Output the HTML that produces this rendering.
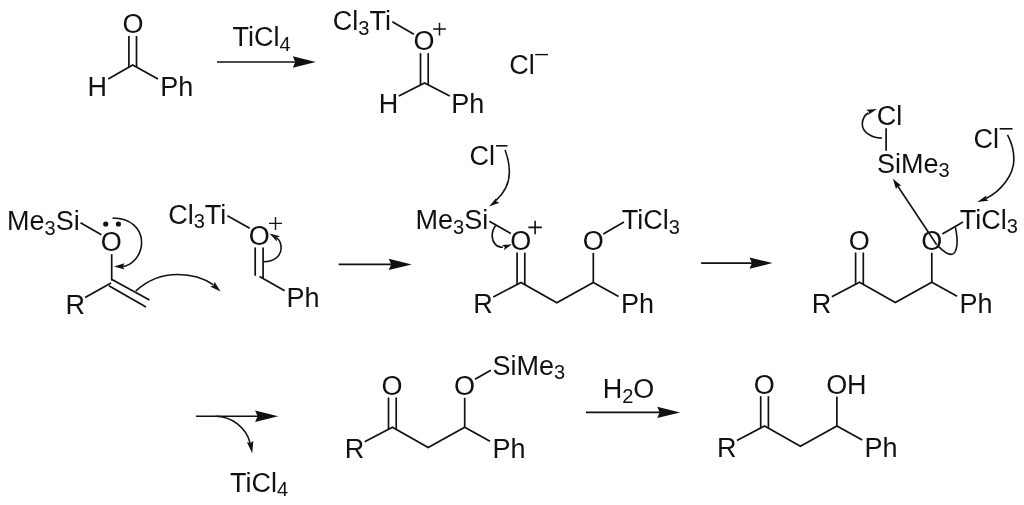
<!DOCTYPE html>
<html><head><meta charset="utf-8"><style>
html,body{margin:0;padding:0;background:#fff;}
svg{display:block;will-change:transform;}
text{font-family:"Liberation Sans",sans-serif;fill:#111;stroke:none;}
</style></head><body>
<svg width="1024" height="505" viewBox="0 0 1024 505" stroke="#111" fill="#111" stroke-linecap="butt">
<g>
<text transform="translate(122.41,0) scale(1.0,1)" x="0"><tspan font-size="27.0" y="32.90">O</tspan></text>
<line x1="128.90" y1="36.00" x2="128.90" y2="67.20" stroke-width="1.7"/>
<line x1="136.50" y1="36.00" x2="136.50" y2="67.20" stroke-width="1.7"/>
<polyline points="108.2,79 132.7,65.0 158,79" fill="none" stroke-width="1.7"/>
<text transform="translate(87.49,0) scale(1.0,1)" x="0"><tspan font-size="27.0" y="96.10">H</tspan></text>
<text transform="translate(160.29,0) scale(1.0,1)" x="0"><tspan font-size="27.0" y="96.10">Ph</tspan></text>
<text transform="translate(232.59,0) scale(1.0,1)" x="0"><tspan font-size="27.0" y="46.00">TiCl</tspan><tspan font-size="20.0" y="50.50">4</tspan></text>
<line x1="217.00" y1="62.00" x2="295.80" y2="62.00" stroke-width="1.6"/>
<path d="M315.80,62.00L292.80,56.30L295.30,62.00L292.80,67.70Z" stroke="none"/>
<text transform="translate(332.83,0) scale(1.0,1)" x="0"><tspan font-size="27.0" y="30.00">Cl</tspan><tspan font-size="20.0" y="34.50">3</tspan><tspan font-size="27.0" y="30.00">Ti</tspan></text>
<line x1="392.30" y1="21.80" x2="413.90" y2="34.30" stroke-width="1.7"/>
<text transform="translate(413.51,0) scale(1.0,1)" x="0"><tspan font-size="27.0" y="50.00">O</tspan></text>
<path d="M433.10,29.10H445.90M439.50,22.70V35.50" stroke-width="1.5" fill="none"/>
<line x1="420.50" y1="53.20" x2="420.50" y2="85.00" stroke-width="1.7"/>
<line x1="428.20" y1="53.20" x2="428.20" y2="85.00" stroke-width="1.7"/>
<polyline points="398.8,96 424.5,83.0 449.8,96" fill="none" stroke-width="1.7"/>
<text transform="translate(378.79,0) scale(1.0,1)" x="0"><tspan font-size="27.0" y="113.30">H</tspan></text>
<text transform="translate(451.29,0) scale(1.0,1)" x="0"><tspan font-size="27.0" y="113.30">Ph</tspan></text>
<text transform="translate(509.13,0) scale(1.0,1)" x="0"><tspan font-size="27.0" y="73.60">Cl</tspan></text>
<path d="M535.20,54.60H548.00" stroke-width="1.4"/>
<text transform="translate(7.09,0) scale(1.0,1)" x="0"><tspan font-size="27.0" y="230.40">Me</tspan><tspan font-size="20.0" y="234.90">3</tspan><tspan font-size="27.0" y="230.40">Si</tspan></text>
<line x1="80.50" y1="222.80" x2="101.40" y2="234.80" stroke-width="1.7"/>
<text transform="translate(100.86,0) scale(1.0,1)" x="0"><tspan font-size="27.0" y="250.50">O</tspan></text>
<circle cx="105.7" cy="224.0" r="2.6" stroke="none"/><circle cx="118.4" cy="224.0" r="2.6" stroke="none"/>
<line x1="111.70" y1="254.20" x2="111.70" y2="280.50" stroke-width="1.7"/>
<line x1="111.00" y1="283.00" x2="85.10" y2="297.60" stroke-width="1.7"/>
<line x1="111.90" y1="279.50" x2="149.50" y2="300.10" stroke-width="1.7"/>
<line x1="108.90" y1="285.80" x2="146.00" y2="307.10" stroke-width="1.7"/>
<text transform="translate(65.49,0) scale(1.0,1)" x="0"><tspan font-size="27.0" y="314.20">R</tspan></text>
<path d="M112.5,218.0 C131,218.0 141.6,229 141.6,242.3 C141.6,256 131,266.3 122,266.5" fill="none" stroke-width="1.6"/>
<path d="M113.90,266.60L124.54,263.29L122.60,266.43L124.66,269.49Z" stroke="none"/>
<path d="M135.7,291.1 C152,276 170,274.5 178,274.5 C192,274.5 205,279 213.5,284.8" fill="none" stroke-width="1.6"/>
<path d="M220.60,291.60L210.08,286.53L213.78,285.43L214.51,281.64Z" stroke="none"/>
<text transform="translate(168.13,0) scale(1.0,1)" x="0"><tspan font-size="27.0" y="223.70">Cl</tspan><tspan font-size="20.0" y="228.20">3</tspan><tspan font-size="27.0" y="223.70">Ti</tspan></text>
<line x1="227.40" y1="215.80" x2="249.70" y2="228.20" stroke-width="1.7"/>
<text transform="translate(248.81,0) scale(1.0,1)" x="0"><tspan font-size="27.0" y="244.80">O</tspan></text>
<path d="M269.00,223.40H282.00M275.50,216.90V229.90" stroke-width="1.4" fill="none"/>
<line x1="255.20" y1="247.40" x2="255.20" y2="275.80" stroke-width="1.7"/>
<line x1="263.10" y1="247.40" x2="263.10" y2="278.00" stroke-width="1.7"/>
<line x1="259.50" y1="276.50" x2="284.70" y2="290.80" stroke-width="1.7"/>
<text transform="translate(286.49,0) scale(1.0,1)" x="0"><tspan font-size="27.0" y="307.10">Ph</tspan></text>
<path d="M263.8,261.8 C274,261.8 281.1,256 281.1,248 C281.1,243 279.5,240 277,238" fill="none" stroke-width="1.6"/>
<path d="M269.50,233.60L279.91,236.21L276.67,237.79L276.88,241.39Z" stroke="none"/>
<line x1="338.70" y1="264.40" x2="391.70" y2="264.40" stroke-width="1.6"/>
<path d="M411.70,264.40L388.70,258.70L391.20,264.40L388.70,270.10Z" stroke="none"/>
<line x1="517.10" y1="252.60" x2="517.10" y2="284.60" stroke-width="1.7"/>
<line x1="524.80" y1="252.60" x2="524.80" y2="284.60" stroke-width="1.7"/>
<text transform="translate(510.21,0) scale(1.0,1)" x="0"><tspan font-size="27.0" y="249.90">O</tspan></text>
<text transform="translate(473.29,0) scale(1.0,1)" x="0"><tspan font-size="27.0" y="313.00">R</tspan></text>
<polyline points="493.30,296.90 521.00,282.40 556.80,302.70 593.30,282.40 618.60,296.40" fill="none" stroke-width="1.7" stroke-linejoin="miter"/>
<line x1="593.30" y1="282.40" x2="593.30" y2="252.90" stroke-width="1.7"/>
<text transform="translate(582.71,0) scale(1.0,1)" x="0"><tspan font-size="27.0" y="249.90">O</tspan></text>
<text transform="translate(620.99,0) scale(1.0,1)" x="0"><tspan font-size="27.0" y="313.10">Ph</tspan></text>
<text transform="translate(415.49,0) scale(1.0,1)" x="0"><tspan font-size="27.0" y="229.20">Me</tspan><tspan font-size="20.0" y="233.70">3</tspan><tspan font-size="27.0" y="229.20">Si</tspan></text>
<line x1="489.30" y1="221.30" x2="510.80" y2="233.50" stroke-width="1.7"/>
<path d="M528.35,227.40H541.85M535.10,220.65V234.15" stroke-width="1.6" fill="none"/>
<line x1="603.30" y1="233.90" x2="624.00" y2="222.00" stroke-width="1.7"/>
<text transform="translate(621.69,0) scale(1.0,1)" x="0"><tspan font-size="27.0" y="229.10">TiCl</tspan><tspan font-size="20.0" y="233.60">3</tspan></text>
<text transform="translate(469.43,0) scale(1.0,1)" x="0"><tspan font-size="27.0" y="165.10">Cl</tspan></text>
<path d="M496.10,145.80H507.50" stroke-width="1.6"/>
<path d="M505.1,150 C508,158 509.4,166 509.4,172 C509.4,184 503,194 496,200.5" fill="none" stroke-width="1.6"/>
<path d="M489.00,206.60L496.25,198.08L496.25,201.61L499.54,202.86Z" stroke="none"/>
<path d="M495.7,225.6 C493,229 492.2,232 492.2,235.7 C492.2,242 496,247.3 503,247.3" fill="none" stroke-width="1.6"/>
<path d="M511.80,244.30L503.95,250.34L504.81,247.01L501.93,245.12Z" stroke="none"/>
<line x1="701.10" y1="263.10" x2="752.50" y2="263.10" stroke-width="1.6"/>
<path d="M772.50,263.10L749.50,257.40L752.00,263.10L749.50,268.80Z" stroke="none"/>
<line x1="855.60" y1="252.50" x2="855.60" y2="284.50" stroke-width="1.7"/>
<line x1="863.30" y1="252.50" x2="863.30" y2="284.50" stroke-width="1.7"/>
<text transform="translate(848.71,0) scale(1.0,1)" x="0"><tspan font-size="27.0" y="249.80">O</tspan></text>
<text transform="translate(811.79,0) scale(1.0,1)" x="0"><tspan font-size="27.0" y="312.90">R</tspan></text>
<polyline points="831.80,296.80 859.50,282.30 895.30,302.60 931.80,282.30 957.10,296.30" fill="none" stroke-width="1.7" stroke-linejoin="miter"/>
<line x1="931.80" y1="282.30" x2="931.80" y2="252.80" stroke-width="1.7"/>
<text transform="translate(921.21,0) scale(1.0,1)" x="0"><tspan font-size="27.0" y="249.80">O</tspan></text>
<text transform="translate(959.49,0) scale(1.0,1)" x="0"><tspan font-size="27.0" y="313.00">Ph</tspan></text>
<line x1="942.30" y1="234.10" x2="963.00" y2="221.90" stroke-width="1.7"/>
<text transform="translate(959.69,0) scale(1.0,1)" x="0"><tspan font-size="27.0" y="228.80">TiCl</tspan><tspan font-size="20.0" y="233.30">3</tspan></text>
<text transform="translate(876.63,0) scale(1.0,1)" x="0"><tspan font-size="27.0" y="125.30">Cl</tspan></text>
<line x1="886.10" y1="128.20" x2="886.10" y2="150.70" stroke-width="1.7"/>
<text transform="translate(877.07,0) scale(1.0,1)" x="0"><tspan font-size="27.0" y="172.50">SiMe</tspan><tspan font-size="20.0" y="177.00">3</tspan></text>
<text transform="translate(973.53,0) scale(1.0,1)" x="0"><tspan font-size="27.0" y="147.60">Cl</tspan></text>
<path d="M999.60,128.80H1012.50" stroke-width="1.6"/>
<path d="M1007.5,134.8 C1012,143 1013.9,152 1013.9,159.5 C1013.9,175 1001,191 986,198.5" fill="none" stroke-width="1.6"/>
<path d="M977.20,202.10L986.52,195.41L985.69,198.83L988.60,200.82Z" stroke="none"/>
<path d="M881.8,138.1 C870,138.1 862.3,131 862.3,124.2 C862.3,119 864.5,115.5 868,113" fill="none" stroke-width="1.6"/>
<path d="M877.00,109.10L867.94,115.10L868.94,111.81L866.16,109.80Z" stroke="none"/>
<path d="M936.7,244.7 L897.5,185.7" fill="none" stroke-width="1.6"/>
<path d="M892.90,178.80L901.38,185.77L897.61,185.88L896.05,189.32Z" stroke="none"/>
<path d="M955.4,227.4 C957,235 957.5,242 956.8,246 C956,252 954,254.4 951,254.4 C947,254.4 942,250 938.1,246.1" fill="none" stroke-width="1.6"/>
<line x1="195.90" y1="416.30" x2="258.10" y2="416.30" stroke-width="1.6"/>
<path d="M278.10,416.30L255.10,410.60L257.60,416.30L255.10,422.00Z" stroke="none"/>
<path d="M215.5,416.3 C231,416.3 246,427 250.1,443" fill="none" stroke-width="1.6"/>
<path d="M252.20,453.20L246.82,441.98L250.42,443.36L253.31,440.80Z" stroke="none"/>
<text transform="translate(230.09,0) scale(1.0,1)" x="0"><tspan font-size="27.0" y="491.60">TiCl</tspan><tspan font-size="20.0" y="496.10">4</tspan></text>
<line x1="388.50" y1="397.50" x2="388.50" y2="429.50" stroke-width="1.7"/>
<line x1="396.20" y1="397.50" x2="396.20" y2="429.50" stroke-width="1.7"/>
<text transform="translate(381.61,0) scale(1.0,1)" x="0"><tspan font-size="27.0" y="394.80">O</tspan></text>
<text transform="translate(344.69,0) scale(1.0,1)" x="0"><tspan font-size="27.0" y="457.90">R</tspan></text>
<polyline points="364.70,441.80 392.40,427.30 428.20,447.60 464.70,427.30 490.00,441.30" fill="none" stroke-width="1.7" stroke-linejoin="miter"/>
<line x1="464.70" y1="427.30" x2="464.70" y2="397.80" stroke-width="1.7"/>
<text transform="translate(454.11,0) scale(1.0,1)" x="0"><tspan font-size="27.0" y="394.80">O</tspan></text>
<text transform="translate(492.39,0) scale(1.0,1)" x="0"><tspan font-size="27.0" y="458.00">Ph</tspan></text>
<line x1="475.00" y1="379.20" x2="490.80" y2="370.30" stroke-width="1.7"/>
<text transform="translate(492.57,0) scale(1.0,1)" x="0"><tspan font-size="27.0" y="374.80">SiMe</tspan><tspan font-size="20.0" y="379.30">3</tspan></text>
<text transform="translate(602.69,0) scale(1.0,1)" x="0"><tspan font-size="27.0" y="398.00">H</tspan><tspan font-size="20.0" y="402.50">2</tspan><tspan font-size="27.0" y="398.00">O</tspan></text>
<line x1="586.00" y1="412.40" x2="660.20" y2="412.40" stroke-width="1.6"/>
<path d="M680.20,412.40L657.20,406.70L659.70,412.40L657.20,418.10Z" stroke="none"/>
<line x1="760.70" y1="396.20" x2="760.70" y2="428.20" stroke-width="1.7"/>
<line x1="768.40" y1="396.20" x2="768.40" y2="428.20" stroke-width="1.7"/>
<text transform="translate(753.81,0) scale(1.0,1)" x="0"><tspan font-size="27.0" y="393.50">O</tspan></text>
<text transform="translate(716.89,0) scale(1.0,1)" x="0"><tspan font-size="27.0" y="456.60">R</tspan></text>
<polyline points="736.90,440.50 764.60,426.00 800.40,446.30 836.90,426.00 862.20,440.00" fill="none" stroke-width="1.7" stroke-linejoin="miter"/>
<line x1="836.90" y1="426.00" x2="836.90" y2="396.50" stroke-width="1.7"/>
<text transform="translate(826.31,0) scale(1.0,1)" x="0"><tspan font-size="27.0" y="393.50">O</tspan></text>
<text transform="translate(864.59,0) scale(1.0,1)" x="0"><tspan font-size="27.0" y="456.70">Ph</tspan></text>
<text transform="translate(846.99,0) scale(1.0,1)" x="0"><tspan font-size="27.0" y="394.00">H</tspan></text>
</g>
</svg>
</body></html>
